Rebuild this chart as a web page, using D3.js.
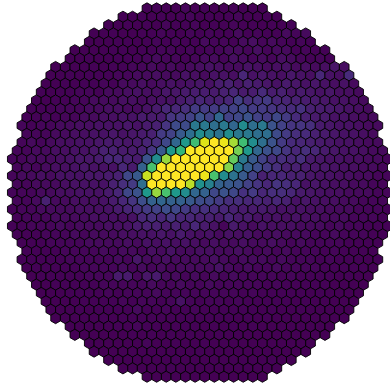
<!DOCTYPE html>
<html><head><meta charset="utf-8">
<script src="https://cdn.jsdelivr.net/npm/d3@7/dist/d3.min.js"></script>
<style>html,body{margin:0;padding:0;background:#fff;overflow:hidden}svg{display:block}</style>
</head><body><div id="chart"></div>
<script>
const rowStart = [14,11,10,8,8,6,6,4,4,3,3,2,2,1,1,1,1,0,0,0,0,0,0,0,0,0,0,0,1,1,1,1,2,2,3,3,4,4,6,6,8,8,10,11,14];
const rowCells = [
[3,4,3,3,5,3,4,3,3,4,3,3,3],
[3,3,4,3,4,3,4,5,3,4,3,4,5,3,3,4,3],
[3,3,4,3,4,3,5,4,4,5,3,4,4,5,4,4,3,4,3,4],
[3,3,4,3,3,4,4,5,4,3,5,4,5,4,4,6,4,5,4,4,6,5,6],
[3,3,3,4,4,3,4,5,4,5,4,4,6,5,5,4,6,7,5,6,5,4,5,4],
[3,3,3,3,4,4,3,4,4,5,5,4,5,4,5,5,6,6,5,7,5,6,6,4,5,4,4],
[3,3,4,3,3,4,4,4,5,6,5,5,4,5,6,6,5,7,6,5,6,5,7,6,5,4,5,4],
[3,3,3,3,4,3,4,4,5,5,6,5,6,5,6,7,8,7,6,6,8,7,6,7,8,6,7,6,7,9,7],
[3,3,4,3,4,4,4,5,5,6,6,7,6,6,8,7,6,8,8,7,14,8,9,8,7,9,8,7,14,8,7,15],
[3,3,4,3,4,4,5,4,6,6,7,6,7,8,7,8,9,8,11,12,9,12,10,9,8,10,9,8,9,8,7,8,6],
[4,3,4,4,5,5,4,6,6,7,8,7,7,9,9,10,11,11,10,12,14,10,11,15,11,12,9,10,9,8,9,7,7,6],
[4,3,4,4,5,5,6,6,6,7,7,6,7,8,8,10,12,14,12,12,14,22,16,18,20,14,13,12,11,10,9,8,8,7,6],
[4,4,4,5,5,5,6,6,7,7,6,6,8,10,14,14,16,20,20,20,22,22,24,20,20,18,16,15,17,12,11,10,9,8,7,6],
[4,4,5,4,5,5,6,6,7,7,8,8,10,10,11,18,20,22,28,22,35,22,24,28,22,20,24,20,15,12,10,10,8,8,7,6,6],
[5,4,5,5,6,6,7,7,8,8,8,9,8,10,12,18,25,25,42,42,38,42,35,50,38,42,28,22,18,18,16,10,9,8,8,7,6,6],
[5,5,5,6,6,7,7,8,8,9,8,9,10,12,20,22,30,38,50,45,40,50,42,42,38,38,25,20,16,15,12,10,9,8,8,7,6],
[5,6,5,6,7,7,8,8,9,10,10,9,10,13,16,24,35,55,70,95,100,97,87,70,50,38,28,20,15,14,12,10,9,8,8,7,6,6],
[5,5,6,6,7,7,8,8,9,12,12,10,10,12,18,30,55,67,100,100,100,100,100,80,55,35,27,24,18,14,16,14,10,9,8,8,7,6,6],
[5,5,6,6,6,7,8,9,9,10,14,14,12,10,28,50,85,100,100,100,100,100,100,77,42,30,22,16,16,14,16,10,9,8,8,7,7,6,6,5],
[5,6,5,6,7,7,8,9,8,8,8,14,10,33,72,100,100,100,100,100,100,100,82,45,32,26,20,16,12,12,10,9,9,8,7,7,6,6,5],
[5,6,6,7,6,8,8,8,9,9,10,12,24,30,92,100,100,100,100,100,97,72,50,40,30,22,12,14,14,12,12,9,8,8,7,7,6,6,5,5],
[5,5,6,6,6,7,8,8,8,8,12,16,20,38,100,100,100,100,90,52,45,33,30,28,22,18,14,18,16,14,8,9,8,7,7,6,6,5,5],
[5,5,5,6,6,7,7,8,8,8,10,14,24,28,55,85,72,55,50,35,33,24,28,24,17,20,14,16,16,14,10,9,8,7,7,6,6,6,5,5],
[5,5,6,12,6,6,7,7,7,8,10,14,18,26,33,35,33,33,30,26,24,20,16,16,14,14,12,14,12,8,9,8,7,7,6,6,5,5,5],
[4,5,5,6,6,6,6,7,7,7,8,10,13,16,20,22,26,24,20,17,17,15,14,12,10,10,10,9,8,8,8,7,7,6,6,6,5,5,5,4],
[4,5,5,5,6,6,6,6,7,7,7,7,8,14,16,14,18,14,14,12,12,10,14,10,10,8,8,8,7,8,7,7,6,6,6,5,5,5,4],
[4,4,5,5,5,6,5,6,6,6,7,7,8,10,12,12,10,12,10,14,10,8,5,10,8,6,8,7,7,7,6,6,6,5,6,5,5,4,4,4],
[4,4,4,5,5,5,6,5,6,6,6,7,7,8,8,9,8,10,8,7,8,6,8,7,8,6,6,7,6,6,6,5,5,6,5,5,5,4,4],
[4,4,4,5,5,5,5,6,6,6,6,7,6,8,7,8,7,8,7,6,7,6,6,7,6,6,7,6,5,6,5,5,5,5,4,4,4,4],
[4,4,4,4,5,5,5,5,6,5,6,6,5,7,6,8,6,6,7,7,6,6,7,6,5,6,5,6,5,5,5,4,5,4,4,4,4],
[4,4,4,4,4,5,5,5,5,5,6,5,9,6,6,7,6,6,6,6,7,6,5,6,6,6,5,6,5,5,5,4,5,4,4,4,3,4],
[3,4,4,4,4,4,5,5,5,5,6,5,6,5,6,5,6,6,6,6,8,6,5,6,5,5,6,5,5,5,5,4,4,4,4,4,3],
[3,4,4,4,4,4,5,5,5,10,10,5,9,10,6,6,5,6,5,6,5,6,5,5,5,5,4,5,4,4,4,4,3,4,3,3],
[3,3,4,4,4,4,4,5,5,5,5,5,6,5,5,6,5,5,6,5,5,5,5,5,4,5,4,4,4,4,4,3,3,3,3],
[3,3,3,4,4,4,4,5,4,5,5,5,6,5,5,5,5,5,5,5,5,4,5,4,4,4,4,4,3,4,3,3,3,3],
[3,3,3,3,4,4,4,4,5,4,5,5,4,5,8,5,4,5,5,4,5,4,4,4,4,4,3,4,3,3,3,3,3],
[3,3,3,4,3,4,4,4,4,6,4,4,5,4,4,5,4,4,4,4,4,4,3,4,3,3,4,3,3,3,3,3],
[3,3,3,3,3,4,3,4,4,4,4,4,4,4,4,4,4,4,4,3,4,3,4,3,3,3,3,3,3,3,3],
[3,3,3,3,3,4,3,5,4,4,3,4,4,4,3,4,3,4,3,4,3,3,3,3,3,3,3,3],
[3,3,3,3,3,3,4,3,4,3,4,3,4,3,3,4,3,3,3,3,3,3,3,3,3,3,3],
[3,3,3,3,3,3,5,3,3,4,3,3,4,3,3,3,3,3,3,3,3,3,3,3],
[3,3,3,3,3,3,3,3,3,3,3,4,3,3,3,3,3,3,3,3,3,3,3],
[3,3,3,3,3,3,3,4,3,3,3,3,3,3,3,3,3,4,3,3],
[3,3,3,3,3,4,3,3,3,3,3,3,3,3,3,3,3],
[3,3,3,3,3,3,3,3,3,3,3,3,3]
];

const width = 390, height = 385;
const x = d3.scaleLinear().domain([0, 39]).range([12.3, 387.5]);
const y = d3.scaleLinear().domain([0, 44]).range([8.4, 376.7]);
const color = d3.scaleSequential(d3.interpolateViridis).domain([3.5, 100]).clamp(true);
const radius = (y(1) - y(0)) / 1.5;
const hexLine = d3.line().curve(d3.curveLinearClosed);
const hexPoints = d3.range(6).map(i => {
  const a = Math.PI / 3 * i;
  return [radius * Math.sin(a), -radius * Math.cos(a)];
});

const cells = rowCells.flatMap((vals, r) => vals.map((v, i) => ({
  col: rowStart[r] + i + (r % 2 ? 0.5 : 0), row: r, value: v
})));

const svg = d3.select("#chart").append("svg").attr("width", width).attr("height", height);
svg.append("g").selectAll("path").data(cells).join("path")
  .attr("transform", d => `translate(${x(d.col)},${y(d.row)})`)
  .attr("d", hexLine(hexPoints))
  .attr("fill", d => color(d.value))
  .attr("stroke", "#000")
  .attr("stroke-width", 0.9);
</script></body></html>
